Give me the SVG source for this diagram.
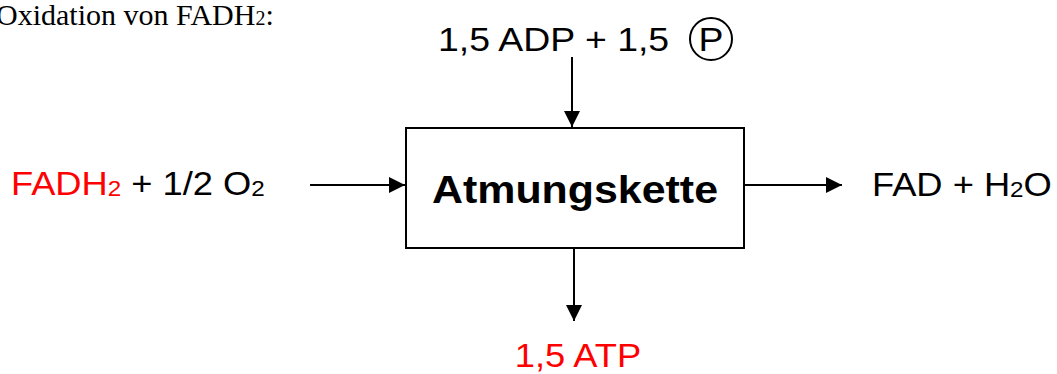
<svg xmlns="http://www.w3.org/2000/svg" width="1057" height="374" viewBox="0 0 1057 374">
<defs>
<marker id="ah" markerWidth="16" markerHeight="16" refX="16" refY="8" orient="auto" markerUnits="userSpaceOnUse"><path d="M0,0 L16,8 L0,16 Z" fill="#000"/></marker>
<style>
.t{font-family:"Liberation Sans",Arial,sans-serif;font-size:33px;fill:#000}
.r{fill:#ff0000}
.s{font-size:22px}
.c{stroke:#000;stroke-width:2;fill:none}
</style>
</defs>
<rect width="1057" height="374" fill="#fff"/>
<text x="-4" y="25" font-family="Liberation Serif,serif" font-size="30" fill="#000">Oxidation von FADH<tspan font-size="20">2</tspan>:</text>
<g id="input-top">
<text class="t" transform="translate(438,51) scale(1.1,1)" style="font-size:34px">1,5 ADP + 1,5</text>
<circle cx="711" cy="39" r="21" fill="none" stroke="#000" stroke-width="2"/>
<text class="t" transform="translate(711,51) scale(1.1,1)" text-anchor="middle" style="font-size:34px">P</text>
</g>
<g id="input-left">
<text class="t" transform="translate(11,195) scale(1.1,1)"><tspan class="r">FADH<tspan class="s" dy="1">2</tspan></tspan><tspan dy="-1"> + 1/2 O</tspan><tspan class="s" dy="1">2</tspan></text>
</g>
<g id="atmungskette">
<rect x="406" y="128" width="338" height="120" fill="#fff" stroke="#000" stroke-width="2"/>
<text transform="translate(575,203) scale(1.1,1)" text-anchor="middle" font-family="Liberation Sans,Arial,sans-serif" font-size="39" font-weight="bold" fill="#000">Atmungskette</text>
</g>
<g id="output-right">
<text class="t" transform="translate(872,196) scale(1.1,1)">FAD + H<tspan class="s" dy="1">2</tspan><tspan dy="-1">O</tspan></text>
</g>
<g id="output-bottom">
<text class="t r" transform="translate(578,367) scale(1.1,1)" text-anchor="middle">1,5 ATP</text>
</g>
<g id="connectors">
<line class="c" x1="572" y1="57" x2="572" y2="127" marker-end="url(#ah)"/>
<line class="c" x1="310" y1="185" x2="405" y2="185" marker-end="url(#ah)"/>
<line class="c" x1="745" y1="185" x2="842" y2="185" marker-end="url(#ah)"/>
<line class="c" x1="574" y1="249" x2="574" y2="321" marker-end="url(#ah)"/>
</g>
</svg>
